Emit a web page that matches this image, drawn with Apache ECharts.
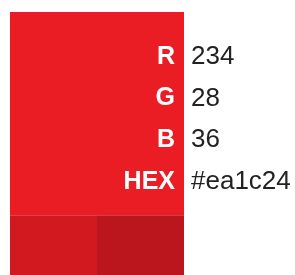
<!DOCTYPE html>
<html>
<head>
<meta charset="utf-8">
<script src="https://cdn.jsdelivr.net/npm/echarts@6/dist/echarts.min.js"></script>
<style>
html,body{margin:0;padding:0;background:#fff;}
#chart{width:295px;height:275px;}
</style>
</head>
<body>
<div id="chart"></div>
<script>
// colour being shown and its two darker shades
var swatchColors = ['#ea1c24', '#d31920', '#bb161d'];
var channelNames = ['R', 'G', 'B', 'HEX'];
var channelValues = ['234', '28', '36', '#ea1c24'];

var mainBottom = 4.87;   // in row units
var stripBottom = 6.3;

var chart = echarts.init(document.getElementById('chart'));

var swatchItems = swatchColors.map(function (c, i) {
    return [i, c];
});
var rowItems = channelNames.map(function (n, i) {
    return [i, n, channelValues[i]];
});

var option = {
    animation: false,
    grid: {left: 10, top: 12, width: 174, height: 263},
    xAxis: {type: 'value', min: 0, max: 2, show: false},
    yAxis: {type: 'value', min: 0, max: stripBottom, inverse: true, show: false},
    series: [
        {
            type: 'custom',
            data: swatchItems,
            renderItem: function (params, api) {
                var i = api.value(0);
                var p0, p1;
                if (i === 0) {
                    p0 = api.coord([0, 0]);
                    p1 = api.coord([2, mainBottom]);
                } else {
                    p0 = api.coord([i - 1, mainBottom]);
                    p1 = api.coord([i, stripBottom]);
                }
                return {
                    type: 'rect',
                    shape: {x: p0[0], y: p0[1], width: p1[0] - p0[0], height: p1[1] - p0[1]},
                    style: {fill: swatchColors[i]}
                };
            }
        },
        {
            type: 'custom',
            data: rowItems,
            renderItem: function (params, api) {
                var i = api.value(0);
                var p = api.coord([2, i + 1.07]);
                return {
                    type: 'group',
                    children: [
                        {
                            type: 'text',
                            style: {
                                x: p[0] - 9, y: p[1], text: channelNames[i],
                                align: 'right', verticalAlign: 'middle',
                                fill: '#fff', font: 'bold 25px "Liberation Sans", Arial, sans-serif'
                            }
                        },
                        {
                            type: 'text',
                            style: {
                                x: p[0] + 7, y: p[1], text: channelValues[i],
                                align: 'left', verticalAlign: 'middle',
                                fill: '#222', font: '26px "Liberation Sans", Arial, sans-serif'
                            }
                        }
                    ]
                };
            }
        }
    ]
};
chart.setOption(option);
</script>
</body>
</html>
